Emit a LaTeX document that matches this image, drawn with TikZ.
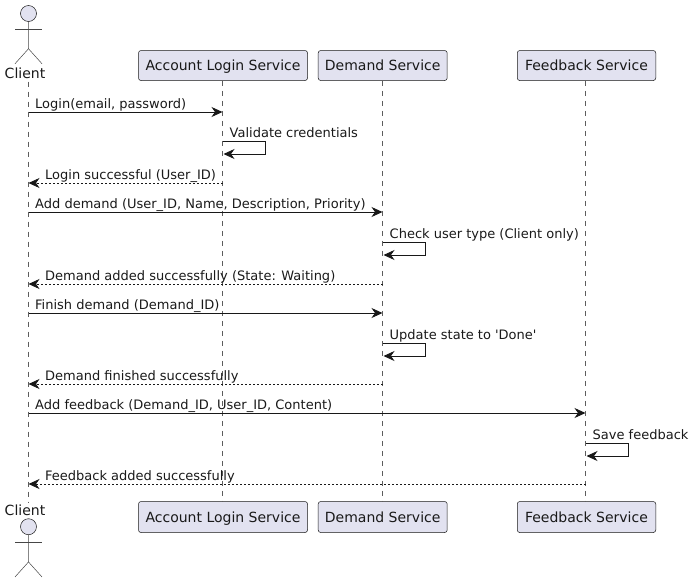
\documentclass[tikz,border=0pt]{standalone}
\usepackage{fontspec}
\setmainfont{DejaVu Sans}
\usetikzlibrary{arrows.meta}
\definecolor{boxfill}{HTML}{E2E2F0}
\definecolor{linecol}{HTML}{181818}
\tikzset{
  service/.style={draw=linecol,line width=0.5pt,fill=boxfill,rounded corners=2.5pt,minimum height=30pt,inner sep=0pt},
  head/.style={circle,draw=linecol,line width=0.5pt,fill=boxfill,minimum size=16pt,inner sep=0pt},
  actorname/.style={anchor=base,inner xsep=0pt,inner ysep=3pt,font=\fontsize{14pt}{16pt}\selectfont,text=black!90},
  limb/.style={draw=linecol!80,line width=0.5pt},
  life/.style={draw=linecol!70,line width=0.5pt,dash pattern=on 5pt off 5pt},
  msg/.style={draw=linecol,line width=0.9pt,-{Stealth[length=11pt,width=10pt,inset=3.5pt]}},
  reply/.style={msg,line width=0.7pt,dash pattern=on 2pt off 2pt},
  txt/.style={anchor=base west,inner sep=0pt,font=\fontsize{13pt}{15pt}\selectfont,text=black!90},
  title/.style={anchor=base,inner sep=0pt,font=\fontsize{14pt}{16pt}\selectfont,text=black!90}
}
\begin{document}
\begin{tikzpicture}[x=1pt,y=-1pt]
\useasboundingbox (0,0) rectangle (695,582);
% top row
\node[head] (clientHead) at (28.5,13.5) {};
\node[actorname] (clientTop) at (25,78.3) {Client};
\node[service,minimum width=169pt] (loginTop) at (223,65.5) {};
\node[service,minimum width=129pt] (demandTop) at (382.7,65.5) {};
\node[service,minimum width=138.5pt] (feedbackTop) at (586.5,65.5) {};
% bottom row
\node[head] (clientFoot) at (28.5,526.7) {};
\node[actorname] (clientBot) at (25,515.6) {Client};
\node[service,minimum width=169pt,minimum height=31pt] (loginBot) at (223,517) {};
\node[service,minimum width=129pt,minimum height=31pt] (demandBot) at (382.7,517) {};
\node[service,minimum width=138.5pt,minimum height=31pt] (feedbackBot) at (586.5,517) {};
% box titles
\node[title] (loginA) at (223,70.2) {Account Login Service};
\node[title] (demandA) at (382.7,70.2) {Demand Service};
\node[title] (feedbackA) at (586.5,70.2) {Feedback Service};
\node[title] (loginB) at (223,522.3) {Account Login Service};
\node[title] (demandB) at (382.7,522.3) {Demand Service};
\node[title] (feedbackB) at (586.5,522.3) {Feedback Service};
% actors
\draw[limb] (clientHead.south) -- ++(0,27) -- ++(-13.5,15);
\draw[limb] (clientHead.south) ++(0,27) -- ++(13.5,15);
\draw[limb] (15,29) -- (42,29);
\draw[limb] (clientFoot.south) -- ++(0,27) -- ++(-13.5,15);
\draw[limb] (clientFoot.south) ++(0,27) -- ++(13.5,15);
\draw[limb] (15,542) -- (42,542);
% lifeline columns
\coordinate (clientLine) at (28.5,0);
\coordinate (loginLine) at (222.5,0);
\coordinate (demandLine) at (382.5,0);
\coordinate (feedbackLine) at (585.5,0);
% lifelines
\draw[life] (clientLine |- clientTop.south) -- (clientLine |- clientBot.north);
\draw[life] (loginLine |- loginTop.south) -- (loginLine |- loginBot.north);
\draw[life] (demandLine |- demandTop.south) -- (demandLine |- demandBot.north);
\draw[life] (feedbackLine |- feedbackTop.south) -- (feedbackLine |- feedbackBot.north);
% rows
\coordinate (r1) at (0,112);
\coordinate (r2) at (0,141);
\coordinate (r3) at (0,183);
\coordinate (r4) at (0,212);
\coordinate (r5) at (0,242);
\coordinate (r6) at (0,284);
\coordinate (r7) at (0,313);
\coordinate (r8) at (0,343);
\coordinate (r9) at (0,384);
\coordinate (r10) at (0,413);
\coordinate (r11) at (0,443);
\coordinate (r12) at (0,484);
% messages
\draw[msg] (clientLine |- r1) -- (loginLine |- r1);
\draw[msg] (loginLine |- r2) -- ++(43,0) -- ++(0,13) -- ++(-42,0);
\draw[reply] (loginLine |- r3) -- (clientLine |- r3);
\draw[msg] (clientLine |- r4) -- (demandLine |- r4);
\draw[msg] (demandLine |- r5) -- ++(43,0) -- ++(0,13) -- ++(-42,0);
\draw[reply] (demandLine |- r6) -- (clientLine |- r6);
\draw[msg] (clientLine |- r7) -- (demandLine |- r7);
\draw[msg] (demandLine |- r8) -- ++(43,0) -- ++(0,13) -- ++(-42,0);
\draw[reply] (demandLine |- r9) -- (clientLine |- r9);
\draw[msg] (clientLine |- r10) -- (feedbackLine |- r10);
\draw[msg] (feedbackLine |- r11) -- ++(43,0) -- ++(0,13) -- ++(-42,0);
\draw[reply] (feedbackLine |- r12) -- (clientLine |- r12);
% labels
\node[txt] (t1) at (35,108) {Login(email, password)};
\node[txt] (t2) at (229.5,137) {Validate credentials};
\node[txt] (t3) at (45,179) {Login successful (User\_ID)};
\node[txt] (t4) at (35,208) {Add demand (User\_ID, Name, Description, Priority)};
\node[txt] (t5) at (389.5,238) {Check user type (Client only)};
\node[txt] (t6) at (45,280) {Demand added successfully (State: Waiting)};
\node[txt] (t7) at (35,309) {Finish demand (Demand\_ID)};
\node[txt] (t8) at (389.5,339) {Update state to \textquotesingle Done\textquotesingle};
\node[txt] (t9) at (45,380) {Demand finished successfully};
\node[txt] (t10) at (35,409) {Add feedback (Demand\_ID, User\_ID, Content)};
\node[txt] (t11) at (592.5,439) {Save feedback};
\node[txt] (t12) at (45,480) {Feedback added successfully};
\end{tikzpicture}
\end{document}
